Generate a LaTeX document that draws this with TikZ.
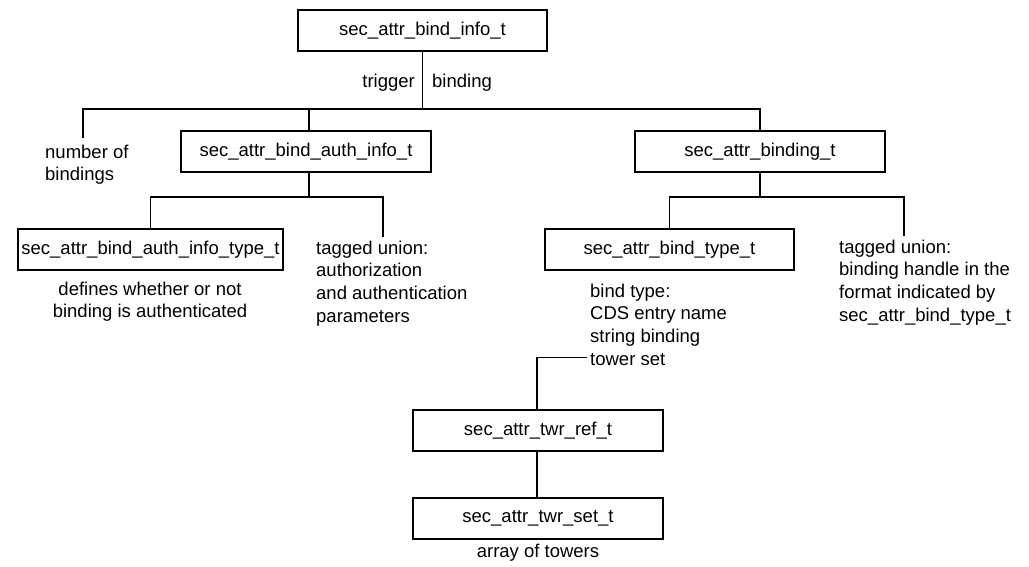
\documentclass[tikz,border=0pt]{standalone}
\usepackage{fontspec}
\setmainfont{Liberation Sans}
\newcommand\diagfont{\fontsize{18.5}{22.7}\selectfont}
\begin{document}
\begin{tikzpicture}[x=1pt,y=-1pt,
  conn/.style={draw=black,line width=1.6pt},
  box/.style={draw=black,line width=1.6pt,rectangle,minimum width=250pt,minimum height=41pt,inner sep=0pt,font=\diagfont},
  lbl/.style={inner sep=0pt,font=\diagfont}]
\useasboundingbox (0,0) rectangle (1029,567);
% boxes
\node[box,minimum width=249pt] (top) at (422.5,30.5) {sec\_attr\_bind\_info\_t};
\node[box] (authinfo) at (306,151.5) {sec\_attr\_bind\_auth\_info\_t};
\node[box] (binding) at (760,151.5) {sec\_attr\_binding\_t};
\node[box,minimum width=265pt] (authtype) at (150.5,249.5) {sec\_attr\_bind\_auth\_info\_type\_t};
\node[box,minimum width=249pt] (bindtype) at (669.5,249.5) {sec\_attr\_bind\_type\_t};
\node[box] (twrref) at (538,430.5) {sec\_attr\_twr\_ref\_t};
\node[box] (twrset) at (538,518.5) {sec\_attr\_twr\_set\_t};
% labels
\node[lbl,anchor=base east] (trig) at (415,88) {trigger};
\node[lbl,anchor=base west] (bind) at (432,88) {binding};
\node[lbl,anchor=north west,align=left] (nb) at (45,144.6) {number of\\bindings};
\node[lbl,anchor=north west,align=left] (tu1txt) at (316,240.6) {tagged union:\\authorization\\and authentication\\parameters};
\node[lbl,anchor=north west,align=left] (tu2txt) at (839,239.6) {tagged union:\\binding handle in the\\format indicated by\\sec\_attr\_bind\_type\_t};
\node[lbl,anchor=north west,align=left] (bt) at (590,283.6) {bind type:\\CDS entry name\\string binding\\tower set};
\node[lbl,anchor=north,align=center] (def) at (150,281.6) {defines whether or not\\binding is authenticated};
\node[lbl,anchor=north] (arr) at (538,543.6) {array of towers};
% junctions
\coordinate (j1) at (422.5,109);
\coordinate (nbtop) at (83,138);
\coordinate (j2) at (309,197);
\coordinate (tu1) at (383,237);
\coordinate (j3) at (760,197);
\coordinate (tu2) at (904,236);
\coordinate (ts) at (587,357.5);
% connectors
\draw[conn] (top.south) -- (j1);
\draw[conn] (nbtop) |- (j1) -| (binding.north);
\draw[conn] ([xshift=3pt]authinfo.north) -- ([xshift=3pt]authinfo.north |- j1);
\draw[conn] ([xshift=3pt]authinfo.south) -- (j2);
\draw[conn] (authtype.north) |- (j2) -| (tu1);
\draw[conn] (binding.south) -- (j3);
\draw[conn] (bindtype.north) |- (j3) -| (tu2);
\draw[conn] (ts) -| ([xshift=-1pt]twrref.north);
\draw[conn] ([xshift=-1pt]twrref.south) -- ([xshift=-1pt]twrset.north);
\end{tikzpicture}
\end{document}
